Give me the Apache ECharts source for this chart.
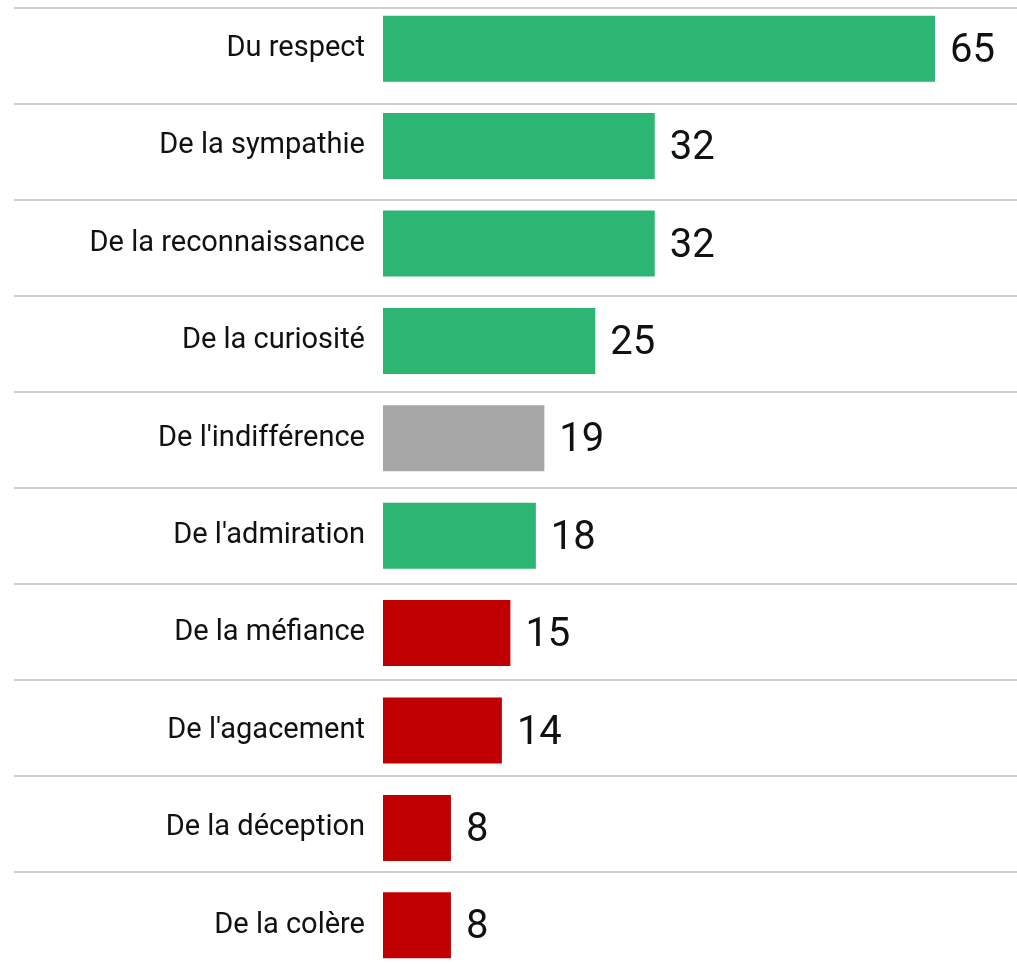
<!DOCTYPE html>
<html>
<head>
<meta charset="utf-8">
<script src="https://cdn.jsdelivr.net/npm/echarts@6/dist/echarts.min.js"></script>
<style>
  html, body { margin: 0; padding: 0; background: #fff; }
  #main { width: 1017px; height: 964px; }
</style>
</head>
<body>
<div id="main"></div>
<script>
var categories = ['Du respect', 'De la sympathie', 'De la reconnaissance', 'De la curiosité',
  "De l'indifférence", "De l'admiration", 'De la méfiance', "De l'agacement",
  'De la déception', 'De la colère'];
var values = [65, 32, 32, 25, 19, 18, 15, 14, 8, 8];
// sentiment of each answer: positive / neutral / negative
var tones = ['pos', 'pos', 'pos', 'pos', 'neu', 'pos', 'neg', 'neg', 'neg', 'neg'];
var toneColors = { pos: '#2db673', neu: '#a6a6a6', neg: '#c00000' };

var chartDom = document.getElementById('main');
var myChart = echarts.init(chartDom);
var option;

option = {
  animation: false,
  textStyle: { fontFamily: 'Roboto' },
  grid: [
    // bars
    { left: 383, right: 82, top: 0, height: 974, outerBoundsMode: 'none' },
    // row separators
    { left: 14, right: 0, top: 8, height: 960, outerBoundsMode: 'none' }
  ],
  xAxis: [
    { gridIndex: 0, type: 'value', min: 0, max: 65, show: false },
    { gridIndex: 1, type: 'value', min: 0, max: 1, show: false }
  ],
  yAxis: [
    {
      gridIndex: 0,
      type: 'category',
      inverse: true,
      data: categories,
      axisLine: { show: false },
      axisTick: { show: false },
      splitLine: { show: false },
      axisLabel: { margin: 18, fontSize: 29, color: '#111', fontFamily: 'Roboto' }
    },
    {
      gridIndex: 1,
      type: 'value',
      inverse: true,
      min: 0,
      max: 10,
      interval: 1,
      axisLine: { show: false },
      axisTick: { show: false },
      axisLabel: { show: false },
      splitLine: { show: true, lineStyle: { color: '#c0c0c0', width: 1.5 } }
    }
  ],
  series: [
    {
      type: 'bar',
      xAxisIndex: 0,
      yAxisIndex: 0,
      barWidth: 66,
      data: values.map(function (v, i) {
        return { value: v, itemStyle: { color: toneColors[tones[i]] } };
      }),
      label: {
        show: true,
        position: 'right',
        distance: 15,
        offset: [0, 3],
        fontSize: 40,
        color: '#111',
        fontFamily: 'Roboto'
      }
    }
  ]
};

option && myChart.setOption(option);
</script>
</body>
</html>
